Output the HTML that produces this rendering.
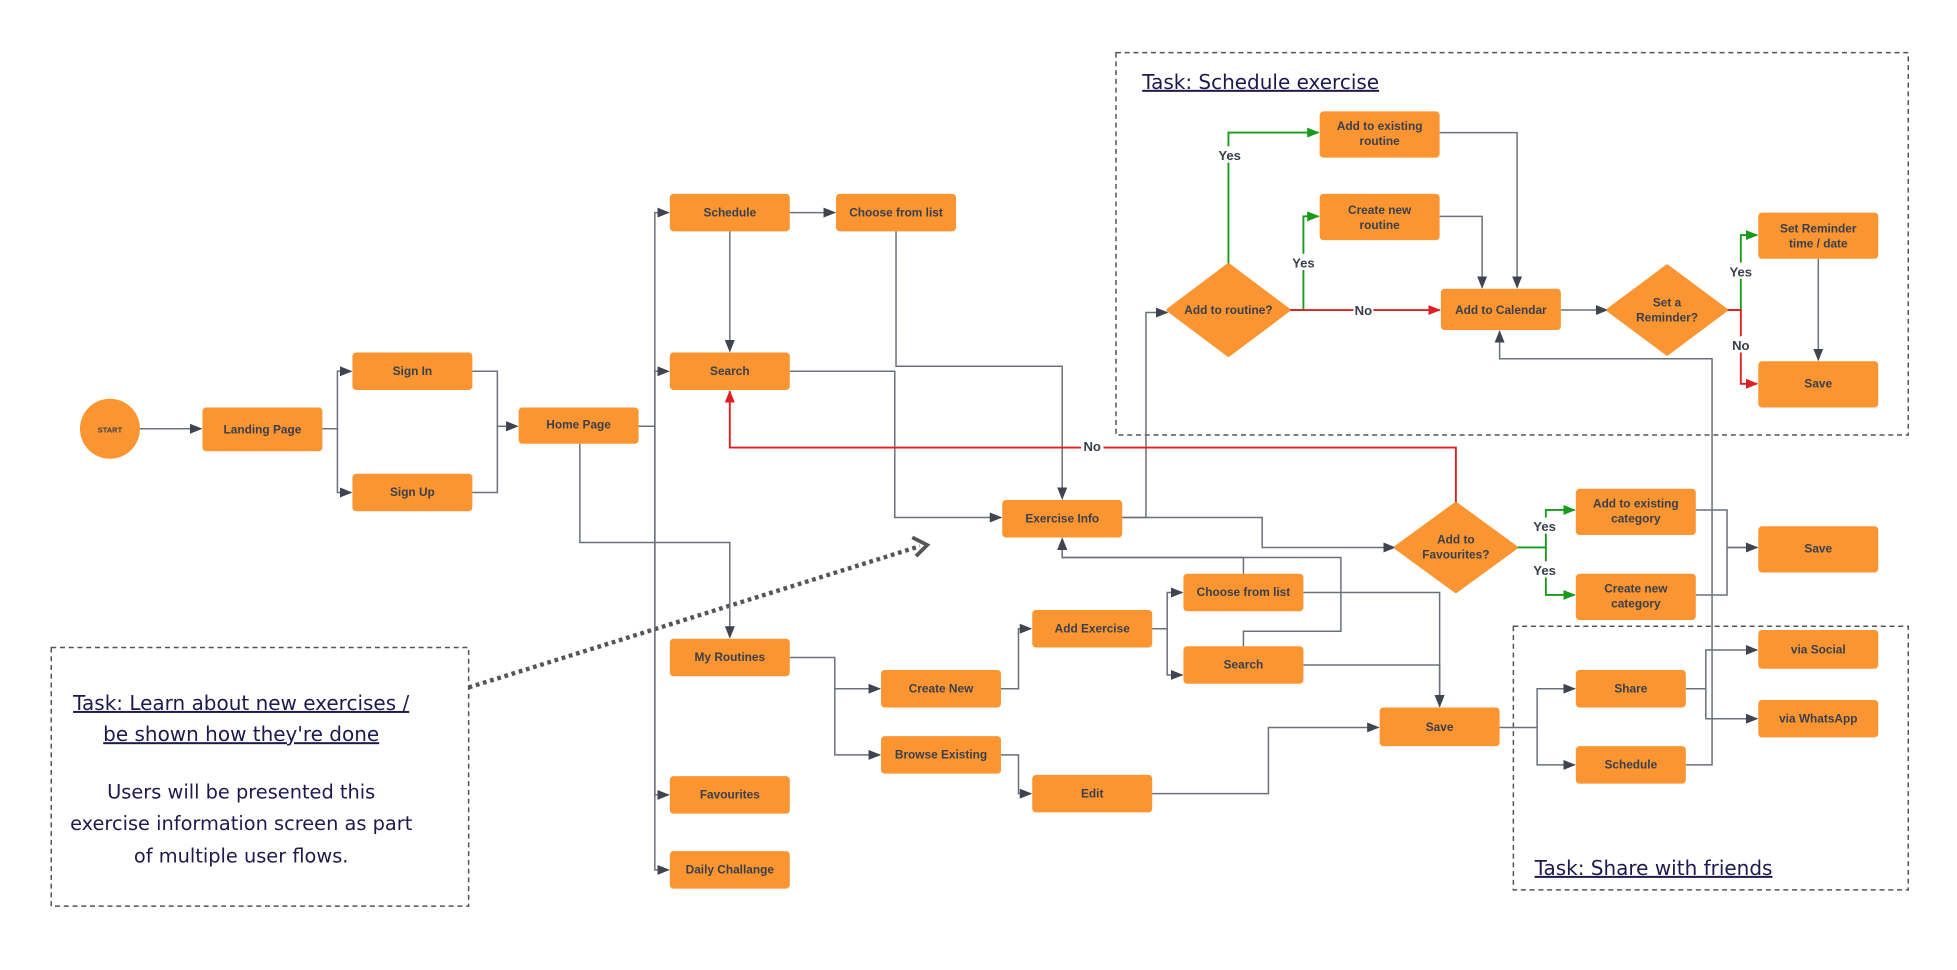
<!DOCTYPE html>
<html><head><meta charset="utf-8"><style>
html,body{margin:0;padding:0;background:#fff;width:1957px;height:970px;overflow:hidden}
svg{display:block}
.n{fill:#fb9532;rx:3}
.t{font-family:"Liberation Sans",sans-serif;font-weight:bold;font-size:9.5px;fill:#3a3f4a;text-anchor:middle}
.l{fill:none;stroke:#6b7079;stroke-width:1.2}
.g{fill:none;stroke:#1a9a1a;stroke-width:1.5}
.r{fill:none;stroke:#e02020;stroke-width:1.5}
.lb{font-family:"Liberation Sans",sans-serif;font-weight:bold;font-size:10.5px;fill:#3a3f4a;text-anchor:middle}
.task{font-family:"DejaVu Sans","Liberation Sans",sans-serif;font-size:16px;fill:#1e1a4d;text-decoration:underline}
.desc{font-family:"DejaVu Sans","Liberation Sans",sans-serif;font-size:15.5px;fill:#1e1a4d;text-anchor:middle}
.box{fill:none;stroke:#555;stroke-width:1.2;stroke-dasharray:4 3}
</style></head><body>
<svg width="1957" height="970" viewBox="0 0 1566 776" xmlns="http://www.w3.org/2000/svg">
<defs>
<marker id="a" markerWidth="10" markerHeight="8" refX="9" refY="4" orient="auto" markerUnits="userSpaceOnUse"><path d="M0,0L10,4L0,8z" fill="#3f4450"/></marker>
<marker id="ag" markerWidth="10" markerHeight="8" refX="9" refY="4" orient="auto" markerUnits="userSpaceOnUse"><path d="M0,0L10,4L0,8z" fill="#1a9a1a"/></marker>
<marker id="ar" markerWidth="10" markerHeight="8" refX="9" refY="4" orient="auto" markerUnits="userSpaceOnUse"><path d="M0,0L10,4L0,8z" fill="#e02020"/></marker>
</defs>
<!-- dashed boxes -->
<rect class="box" x="893" y="42" width="634" height="306"/>
<rect class="box" x="1211" y="501" width="316" height="211"/>
<rect class="box" x="41" y="518" width="334" height="207"/>
<text class="task" x="914" y="71">Task: Schedule exercise</text>
<text class="task" x="1228" y="700">Task: Share with friends</text>
<text class="task" x="193" y="568" text-anchor="middle">Task: Learn about new exercises /</text>
<text class="task" x="193" y="593" text-anchor="middle">be shown how they're done</text>
<text class="desc" x="193" y="639">Users will be presented this</text>
<text class="desc" x="193" y="664">exercise information screen as part</text>
<text class="desc" x="193" y="690">of multiple user flows.</text>
<path d="M375,550L736,437" fill="none" stroke="#555" stroke-width="3.5" stroke-dasharray="3 3"/>
<path d="M730,430L742,436L733,445" fill="none" stroke="#555" stroke-width="3"/>

<!-- connectors -->
<g marker-end="url(#a)">
<path class="l" d="M112,343H161"/>
<path class="l" d="M258,343H270V297H281"/>
<path class="l" d="M258,343H270V394H281"/>
<path class="l" d="M378,297H398V341H414"/>
<path class="l" d="M378,394H398V341H414"/>
<path class="l" d="M511,341H524V170H535"/>
<path class="l" d="M511,341H524V297H535"/>
<path class="l" d="M524,341V636H535"/>
<path class="l" d="M524,341V696H535"/>
<path class="l" d="M464,355V434H584V510"/>
<path class="l" d="M632,170H668"/>
<path class="l" d="M584,185V281"/>
<path class="l" d="M717,185V293H850V399"/>
<path class="l" d="M632,297H716V414H801"/>
<path class="l" d="M898,414H917V250H934"/>
<path class="l" d="M898,414H1010V438H1116"/>
<path class="l" d="M995,459V446H850V431"/>
<path class="l" d="M995,517V505H1073V446H850V431"/>
<path class="l" d="M1357,408H1382V438H1406"/>
<path class="l" d="M1357,476H1382V438H1406"/>
<path class="l" d="M632,526H668V551H704"/>
<path class="l" d="M668,551V604H704"/>
<path class="l" d="M801,551H815V503H825"/>
<path class="l" d="M801,604H815V635H825"/>
<path class="l" d="M922,503H934V474H946"/>
<path class="l" d="M934,503V540H946"/>
<path class="l" d="M1043,474H1152V565"/>
<path class="l" d="M1043,532H1152V565"/>
<path class="l" d="M922,635H1015V582H1103"/>
<path class="l" d="M1200,582H1230V551H1260"/>
<path class="l" d="M1230,582V612H1260"/>
<path class="l" d="M1349,551H1365V520H1406"/>
<path class="l" d="M1365,551V575H1406"/>
<path class="l" d="M1349,612H1370V287H1200V265"/>
<path class="l" d="M1152,173H1186V230"/>
<path class="l" d="M1152,106H1214V230"/>
<path class="l" d="M1249,248H1286"/>
<path class="l" d="M1455,207V288"/>
</g>
<path class="g" d="M983,212V106H1055" marker-end="url(#ag)"/>
<path class="g" d="M1031,248H1043V173H1055" marker-end="url(#ag)"/>
<path class="r" d="M1031,248H1152" marker-end="url(#ar)"/>
<path class="g" d="M1381,248H1393V188H1406" marker-end="url(#ag)"/>
<path class="r" d="M1381,248H1393V307H1406" marker-end="url(#ar)"/>
<path class="g" d="M1213,438H1237V408H1260" marker-end="url(#ag)"/>
<path class="g" d="M1237,438V476H1260" marker-end="url(#ag)"/>
<path class="r" d="M1165,403V358H584V313" marker-end="url(#ar)"/>
<g>
<rect x="974" y="117" width="20" height="13" fill="#fff"/><text class="lb" x="984" y="128">Yes</text>
<rect x="1033" y="203" width="20" height="13" fill="#fff"/><text class="lb" x="1043" y="214">Yes</text>
<rect x="1083" y="242" width="16" height="13" fill="#fff"/><text class="lb" x="1091" y="252">No</text>
<rect x="1383" y="210" width="20" height="13" fill="#fff"/><text class="lb" x="1393" y="221">Yes</text>
<rect x="1385" y="269" width="16" height="13" fill="#fff"/><text class="lb" x="1393" y="280">No</text>
<rect x="1226" y="414" width="20" height="13" fill="#fff"/><text class="lb" x="1236" y="425">Yes</text>
<rect x="1226" y="449" width="20" height="13" fill="#fff"/><text class="lb" x="1236" y="460">Yes</text>
<rect x="865" y="350" width="18" height="13" fill="#fff"/><text class="lb" x="874" y="361">No</text>
</g>

<!-- nodes -->
<circle cx="88" cy="343" r="24" fill="#fb9532"/><text class="t" x="88" y="346" style="font-size:6px">START</text>
<g>
<rect class="n" x="162" y="326" width="96" height="35"/><text class="t" x="210" y="347">Landing Page</text>
<rect class="n" x="282" y="282" width="96" height="30"/><text class="t" x="330" y="300">Sign In</text>
<rect class="n" x="282" y="379" width="96" height="30"/><text class="t" x="330" y="397">Sign Up</text>
<rect class="n" x="415" y="326" width="96" height="29"/><text class="t" x="463" y="343">Home Page</text>
<rect class="n" x="536" y="155" width="96" height="30"/><text class="t" x="584" y="173">Schedule</text>
<rect class="n" x="669" y="155" width="96" height="30"/><text class="t" x="717" y="173">Choose from list</text>
<rect class="n" x="536" y="282" width="96" height="30"/><text class="t" x="584" y="300">Search</text>
<rect class="n" x="536" y="511" width="96" height="30"/><text class="t" x="584" y="529">My Routines</text>
<rect class="n" x="536" y="621" width="96" height="30"/><text class="t" x="584" y="639">Favourites</text>
<rect class="n" x="536" y="681" width="96" height="30"/><text class="t" x="584" y="699">Daily Challange</text>
<rect class="n" x="802" y="400" width="96" height="30"/><text class="t" x="850" y="418">Exercise Info</text>
<rect class="n" x="705" y="536" width="96" height="30"/><text class="t" x="753" y="554">Create New</text>
<rect class="n" x="705" y="589" width="96" height="30"/><text class="t" x="753" y="607">Browse Existing</text>
<rect class="n" x="826" y="488" width="96" height="30"/><text class="t" x="874" y="506">Add Exercise</text>
<rect class="n" x="826" y="620" width="96" height="30"/><text class="t" x="874" y="638">Edit</text>
<rect class="n" x="947" y="459" width="96" height="30"/><text class="t" x="995" y="477">Choose from list</text>
<rect class="n" x="947" y="517" width="96" height="30"/><text class="t" x="995" y="535">Search</text>
<rect class="n" x="1104" y="566" width="96" height="31"/><text class="t" x="1152" y="585">Save</text>
<rect class="n" x="1261" y="391" width="96" height="37"/><text class="t" x="1309" y="406">Add to existing</text><text class="t" x="1309" y="418">category</text>
<rect class="n" x="1261" y="459" width="96" height="37"/><text class="t" x="1309" y="474">Create new</text><text class="t" x="1309" y="486">category</text>
<rect class="n" x="1407" y="421" width="96" height="37"/><text class="t" x="1455" y="442">Save</text>
<rect class="n" x="1261" y="536" width="88" height="30"/><text class="t" x="1305" y="554">Share</text>
<rect class="n" x="1261" y="597" width="88" height="30"/><text class="t" x="1305" y="615">Schedule</text>
<rect class="n" x="1407" y="504" width="96" height="31"/><text class="t" x="1455" y="523">via Social</text>
<rect class="n" x="1407" y="560" width="96" height="30"/><text class="t" x="1455" y="578">via WhatsApp</text>
<rect class="n" x="1056" y="89" width="96" height="37"/><text class="t" x="1104" y="104">Add to existing</text><text class="t" x="1104" y="116">routine</text>
<rect class="n" x="1056" y="155" width="96" height="37"/><text class="t" x="1104" y="171">Create new</text><text class="t" x="1104" y="183">routine</text>
<rect class="n" x="1153" y="231" width="96" height="33"/><text class="t" x="1201" y="251">Add to Calendar</text>
<rect class="n" x="1407" y="170" width="96" height="37"/><text class="t" x="1455" y="186">Set Reminder</text><text class="t" x="1455" y="198">time / date</text>
<rect class="n" x="1407" y="289" width="96" height="37"/><text class="t" x="1455" y="310">Save</text>
</g>
<path d="M983,212L1031,248L983,284L935,248Z" fill="#fb9532" stroke="#fb9532" stroke-width="3" stroke-linejoin="round"/>
<text class="t" x="983" y="251">Add to routine?</text>
<path d="M1334,213L1381,248L1334,283L1287,248Z" fill="#fb9532" stroke="#fb9532" stroke-width="3" stroke-linejoin="round"/>
<text class="t" x="1334" y="245">Set a</text><text class="t" x="1334" y="257">Reminder?</text>
<path d="M1165,403L1213,438L1165,473L1117,438Z" fill="#fb9532" stroke="#fb9532" stroke-width="3" stroke-linejoin="round"/>
<text class="t" x="1165" y="435">Add to</text><text class="t" x="1165" y="447">Favourites?</text>
</svg>
</body></html>
